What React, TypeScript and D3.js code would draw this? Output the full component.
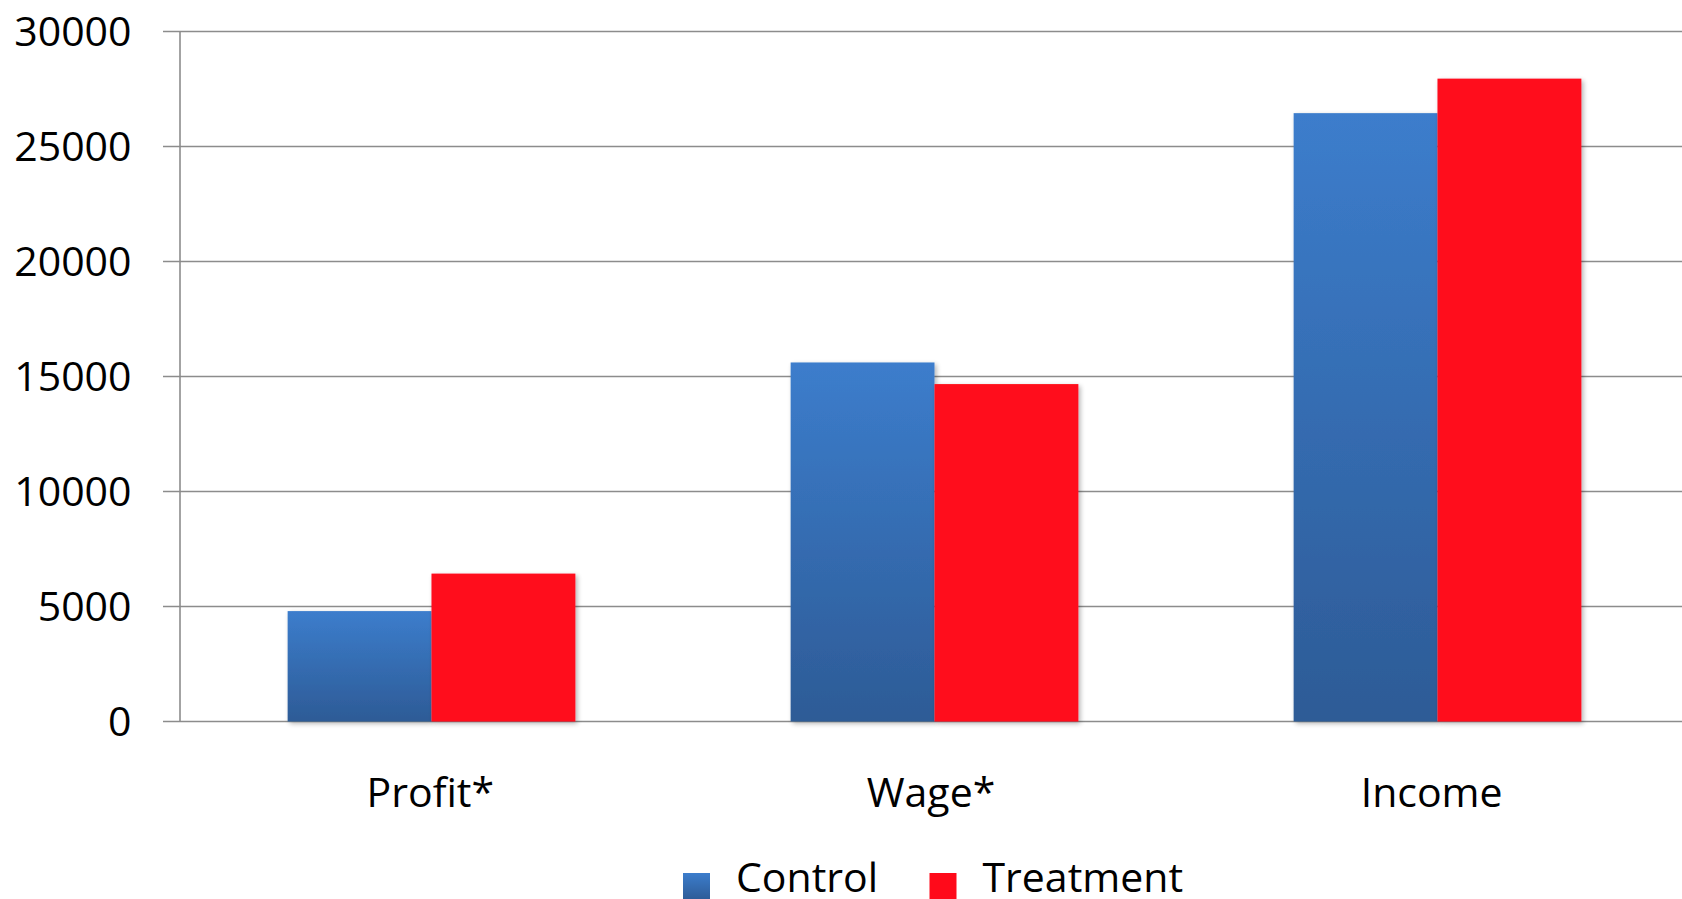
import React from "react";
import * as d3 from "d3";

const categories = ["Profit*", "Wage*", "Income"];
const seriesNames = ["Control", "Treatment"];
const controlValues = [4800, 15610, 26450];
const treatmentValues = [6430, 14670, 27950];
const yTicks = [0, 5000, 10000, 15000, 20000, 25000, 30000];

const W = 1682;
const H = 899;
const FONT = "'Open Sans', sans-serif";

export default function App() {
  const left = 180;
  const right = 1682;
  const top = 31.5;
  const bottom = 721.5;

  const x0 = d3
    .scaleBand<string>()
    .domain(categories)
    .range([left, left + 3 * 503])
    .paddingInner(0.428)
    .paddingOuter(0.214);
  const x1 = d3.scaleBand<string>().domain(seriesNames).range([0, x0.bandwidth()]).padding(0);
  const xLabel = d3.scaleBand<string>().domain(categories).range([left, right]).padding(0);
  const y = d3.scaleLinear().domain([0, 30000]).range([bottom, top]);

  const rows = categories.map((c, i) => ({
    cat: c,
    values: [
      { name: "Control", v: controlValues[i] },
      { name: "Treatment", v: treatmentValues[i] },
    ],
  }));

  const fills: Record<string, string> = {
    Control: "url(#blueGrad)",
    Treatment: "#ff0a1a",
  };

  return (
    <svg
      width={W}
      height={H}
      style={{ position: "absolute", left: 0, top: 0, background: "#fff" }}
    >
      <defs>
        <linearGradient id="blueGrad" x1="0" y1="0" x2="0" y2="1">
          <stop offset="0%" stopColor="#3c7dcc" />
          <stop offset="100%" stopColor="#2d5b96" />
        </linearGradient>
        <filter id="shadow" x="-10%" y="-10%" width="130%" height="130%">
          <feGaussianBlur in="SourceAlpha" stdDeviation="2.5" />
          <feOffset dx="2" dy="2" result="off" />
          <feComponentTransfer>
            <feFuncA type="linear" slope="0.3" />
          </feComponentTransfer>
          <feMerge>
            <feMergeNode />
            <feMergeNode in="SourceGraphic" />
          </feMerge>
        </filter>
      </defs>

      {/* gridlines */}
      {yTicks.map((t) => (
        <line
          key={"g" + t}
          x1={163}
          x2={right}
          y1={y(t)}
          y2={y(t)}
          stroke="#8c8c8c"
          strokeWidth={1.6}
        />
      ))}
      {/* y axis */}
      <line x1={left} x2={left} y1={top} y2={bottom} stroke="#8c8c8c" strokeWidth={1.6} />

      {/* tick labels */}
      {yTicks.map((t) => (
        <text
          key={"t" + t}
          x={131.5}
          y={y(t) + 14}
          textAnchor="end"
          fontFamily={FONT}
          fontSize={41}
          fill="#000"
        >
          {t}
        </text>
      ))}

      {/* bars */}
      {rows.map((r) => (
        <g key={r.cat} transform={`translate(${x0(r.cat)},0)`}>
          {r.values.map((d) => (
            <rect
              key={d.name}
              x={x1(d.name)}
              y={y(d.v)}
              width={x1.bandwidth()}
              height={bottom - y(d.v)}
              fill={fills[d.name]}
              filter="url(#shadow)"
            />
          ))}
        </g>
      ))}

      {/* category labels */}
      {categories.map((c) => (
        <text
          key={"c" + c}
          x={(xLabel(c) as number) + xLabel.bandwidth() / 2}
          y={806.5}
          textAnchor="middle"
          fontFamily={FONT}
          fontSize={41}
          fill="#000"
        >
          {c}
        </text>
      ))}

      {/* legend */}
      {seriesNames.map((s, i) => {
        const sx = [683, 929.5][i];
        return (
          <g key={"l" + s}>
            <rect x={sx} y={873} width={27} height={27} fill={fills[s]} />
            <text x={sx + 53} y={891.5} fontFamily={FONT} fontSize={41} fill="#000">
              {s}
            </text>
          </g>
        );
      })}
    </svg>
  );
}
